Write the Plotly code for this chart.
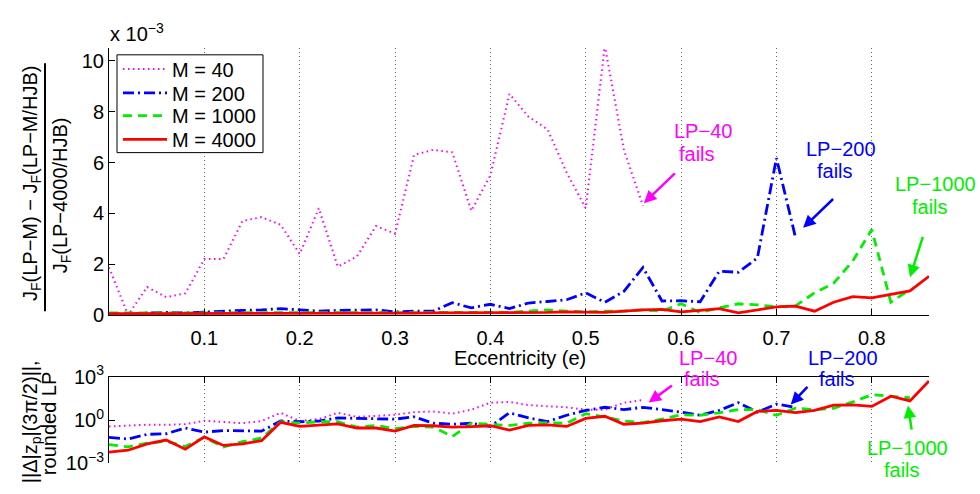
import numpy as np
import plotly.graph_objects as go

# Eccentricity grid (step 0.02)
ecc = [round(0.02 * i, 2) for i in range(44)]

# Relative cost difference, units of 1e-3
rel_m40 = [1.87, 0.0, 1.1, 0.7, 0.85, 2.2, 2.2, 3.7, 3.85, 3.55, 2.4, 4.2, 1.9, 2.3, 3.5,
           3.2, 6.3, 6.5, 6.4, 4.1, 5.5, 8.7, 7.8, 7.3, 5.6, 4.2, 10.6, 6.5, 4.3]
rel_m200 = [0.05, 0.02, 0.08, 0.1, 0.08, 0.12, 0.15, 0.18, 0.2, 0.25, 0.2, 0.15, 0.18, 0.2,
            0.2, 0.12, 0.15, 0.15, 0.48, 0.28, 0.42, 0.25, 0.47, 0.53, 0.6, 0.87, 0.5, 0.93,
            1.87, 0.55, 0.56, 0.52, 1.72, 1.68, 2.24, 6.17, 3.05]
rel_m1000 = [0.08, 0.08, 0.08, 0.08, 0.08, 0.09, 0.09, 0.09, 0.1, 0.1, 0.1, 0.1, 0.1, 0.1,
             0.1, 0.1, 0.1, 0.1, 0.1, 0.1, 0.1, 0.1, 0.15, 0.2, 0.15, 0.12, 0.15, 0.15, 0.2,
             0.15, 0.44, 0.1, 0.28, 0.44, 0.4, 0.32, 0.36, 0.87, 1.25, 2.12, 3.36, 0.5, 1.0]
rel_m4000 = [0.05, 0.05, 0.05, 0.05, 0.05, 0.05, 0.06, 0.06, 0.06, 0.06, 0.06, 0.06, 0.07,
             0.07, 0.07, 0.07, 0.07, 0.08, 0.08, 0.08, 0.08, 0.08, 0.1, 0.1, 0.12, 0.12, 0.1,
             0.15, 0.2, 0.22, 0.12, 0.18, 0.25, 0.08, 0.2, 0.32, 0.35, 0.15, 0.5, 0.72, 0.67,
             0.82, 0.95, 1.52]

# Norm of the state difference, rounded LP
dz_m40 = [0.36, 0.42, 0.47, 0.47, 0.51, 0.89, 0.76, 0.60, 0.85, 3.16, 0.85, 1.15, 3.16, 1.66,
          1.9, 2.34, 3.5, 3.9, 2.75, 5.2, 15.8, 17.8, 10.7, 8.7, 7.6, 5.2, 5.2, 15.8, 24.0]
dz_m200 = [0.062, 0.048, 0.102, 0.112, 0.28, 0.145, 0.186, 0.17, 0.17, 0.85, 0.76, 0.85, 1.41,
           1.29, 1.15, 1.15, 1.66, 0.60, 0.51, 0.60, 0.36, 3.16, 1.41, 0.78, 2.14, 4.6, 7.6,
           5.2, 7.6, 5.2, 3.5, 2.14, 4.6, 15.8, 3.5, 12.6, 7.6]
dz_m1000 = [0.020, 0.014, 0.025, 0.034, 0.0148, 0.063, 0.0135, 0.032, 0.056, 0.76, 0.60, 0.76,
            0.76, 0.32, 0.42, 0.25, 0.36, 0.32, 0.072, 0.60, 0.50, 0.42, 0.60, 0.66, 0.60,
            2.75, 1.66, 0.85, 0.66, 1.15, 2.34, 2.14, 3.16, 5.2, 5.2, 2.14, 6.5, 5.2, 6.5,
            17.8, 56.0, 44.7, 34.7]
dz_m4000 = [0.0060, 0.0081, 0.0224, 0.041, 0.0095, 0.068, 0.0174, 0.0224, 0.037, 0.69, 0.36,
            0.42, 0.54, 0.28, 0.28, 0.17, 0.42, 0.40, 0.32, 0.35, 0.40, 0.20, 0.42, 0.46, 0.36,
            1.29, 1.82, 0.51, 0.60, 0.89, 1.15, 0.78, 1.66, 0.78, 3.9, 4.6, 3.2, 4.6, 10.7,
            11.2, 8.7, 44.7, 20.9, 501.0]

series = [
    ("M = 40", rel_m40, dz_m40, "#ff00ff", "1.5px,3.5px", 2),
    ("M = 200", rel_m200, dz_m200, "#0000ff", "11px,4px,2px,4px", 2.8),
    ("M = 1000", rel_m1000, dz_m1000, "#00ee00", "9px,6px", 2.8),
    ("M = 4000", rel_m4000, dz_m4000, "#ff0000", "solid", 2.8),
]

x_ticks = [0.1, 0.2, 0.3, 0.4, 0.5, 0.6, 0.7, 0.8]
y_ticks_top = [0, 2, 4, 6, 8, 10]
FONT = "Liberation Sans, Arial, Helvetica, sans-serif"
FS = 20
W, H, L, R = 980, 494, 109, 51


def px(xp):
    return (xp - L) / (W - L - R)


def py(yp):
    return (H - yp) / H


# one single-entry legend per series, stacked inside a common frame
legend_names = ["legend", "legend2", "legend3", "legend4"]
legend_rows = [58, 83, 107, 132]

fig = go.Figure()
for (name, top, bottom, color, dash, width), lg in zip(series, legend_names):
    n = len(top)
    fig.add_trace(go.Scatter(
        x=ecc[:n], y=np.array(top) * 1e-3, name=name, mode="lines",
        line=dict(color=color, dash=dash, width=width),
        xaxis="x", yaxis="y", showlegend=True, legend=lg))
    n2 = len(bottom)
    fig.add_trace(go.Scatter(
        x=ecc[:n2], y=bottom, name=name, mode="lines",
        line=dict(color=color, dash=dash, width=width),
        xaxis="x2", yaxis="y2", showlegend=False))

axis_common = dict(showline=True, linecolor="black", linewidth=1, ticks="inside",
                   ticklen=6, tickcolor="black", zeroline=False,
                   tickfont=dict(family=FONT, size=FS, color="black"))
grid_common = dict(showgrid=True, gridcolor="#6a6a6a", griddash="1px,3px", gridwidth=1)

layout_legends = {}
for lg, row in zip(legend_names, legend_rows):
    layout_legends[lg] = dict(x=px(118), y=py(row), xanchor="left", yanchor="middle",
                              bgcolor="rgba(0,0,0,0)", borderwidth=0,
                              font=dict(family=FONT, size=FS, color="black"),
                              itemwidth=44, tracegroupgap=0)

fig.update_layout(
    width=W, height=H,
    margin=dict(l=L, r=R, t=0, b=0),
    paper_bgcolor="white", plot_bgcolor="white",
    font=dict(family=FONT, size=FS, color="black"),
    xaxis=dict(domain=[0, 1], range=[0, 0.86], tickvals=x_ticks,
               ticktext=[str(t) for t in x_ticks], anchor="y", ticklabelstandoff=5,
               **grid_common, **axis_common),
    yaxis=dict(domain=[py(317), py(36)], range=[0, 10.5e-3],
               tickvals=[v * 1e-3 for v in y_ticks_top],
               ticktext=[str(v) for v in y_ticks_top], anchor="x",
               showgrid=False, **axis_common),
    xaxis2=dict(domain=[0, 1], range=[0, 0.86], tickvals=x_ticks, anchor="y2",
                side="top", showticklabels=False, **grid_common, **axis_common),
    yaxis2=dict(domain=[py(473.3), py(382)], type="log", range=[-3, 3],
                tickvals=[1e-3, 1, 1e3],
                ticktext=["10<sup>−3</sup>", "10<sup>0</sup>", "10<sup>3</sup>"],
                anchor="x2", showgrid=False, **axis_common),
    **layout_legends,
)

ann = []


def text_ann(text, xp, yp, color="black", angle=0, size=FS):
    ann.append(dict(text=text, x=px(xp), y=py(yp), xref="paper", yref="paper",
                    showarrow=False, textangle=angle, xanchor="center", yanchor="middle",
                    font=dict(family=FONT, size=size, color=color)))


def label_ann(first, second, x1, y1, x2, y2, color):
    text_ann(first, x1, y1, color=color)
    text_ann(second, x2, y2, color=color)


def arrow_ann(xh, yh, xt, yt, color, xr, yr):
    ann.append(dict(text="", x=xh, y=yh, ax=xt, ay=yt, xref=xr, yref=yr,
                    axref=xr, ayref=yr, showarrow=True, arrowhead=2, arrowsize=1,
                    arrowwidth=2.5, arrowcolor=color, standoff=0, startstandoff=0))


# Axis titles
text_ann("J<sub>F</sub>(LP−M) − J<sub>F</sub>(LP−M/HJB)", 32, 178, angle=-90)
text_ann("J<sub>F</sub>(LP−4000/HJB)", 61, 191, angle=-90)
text_ann("x 10<sup>−3</sup>", 137, 20)
text_ann("Eccentricity (e)", 520, 362)
text_ann("||Δ|z<sub>p</sub>|(3π/2)||,", 31, 430, angle=-90)
text_ann("rounded LP", 49, 432, angle=-90)

MAG, BLU, GRN = "#ff00ff", "#0000ff", "#00ee00"

# Failure labels, upper panel
label_ann("LP−40", "fails", 703, 123, 697, 147, MAG)
label_ann("LP−200", "fails", 841, 142, 835, 165, BLU)
label_ann("LP−1000", "fails", 935, 179, 930, 203, GRN)
arrow_ann(0.561, 4.4e-3, 0.595, 5.63e-3, MAG, "x", "y")
arrow_ann(0.728, 3.43e-3, 0.761, 4.62e-3, BLU, "x", "y")
arrow_ann(0.840, 1.48e-3, 0.854, 3.13e-3, GRN, "x", "y")

# Failure labels, lower panel (log axis: y in decades)
label_ann("LP−40", "fails", 708, 362, 702, 384, MAG)
label_ann("LP−200", "fails", 843, 362, 837, 384, BLU)
label_ann("LP−1000", "fails", 907, 457, 902, 480, GRN)
arrow_ann(0.566, 1.21, 0.592, 2.46, MAG, "x2", "y2")
arrow_ann(0.715, 1.07, 0.734, 2.39, BLU, "x2", "y2")
arrow_ann(0.838, 1.0, 0.842, -0.77, GRN, "x2", "y2")

fig.update_layout(annotations=ann)

# Fraction bar of the upper y-axis title
fig.add_shape(type="line", xref="paper", yref="paper", x0=px(45), x1=px(45),
              y0=py(52), y1=py(313), line=dict(color="black", width=2))
# Frame behind the stacked legend entries
fig.add_shape(type="rect", xref="paper", yref="paper", layer="above",
              x0=px(117), x1=px(263), y0=py(146), y1=py(43),
              fillcolor="white", line=dict(color="black", width=1))

fig.write_html("out.html")
